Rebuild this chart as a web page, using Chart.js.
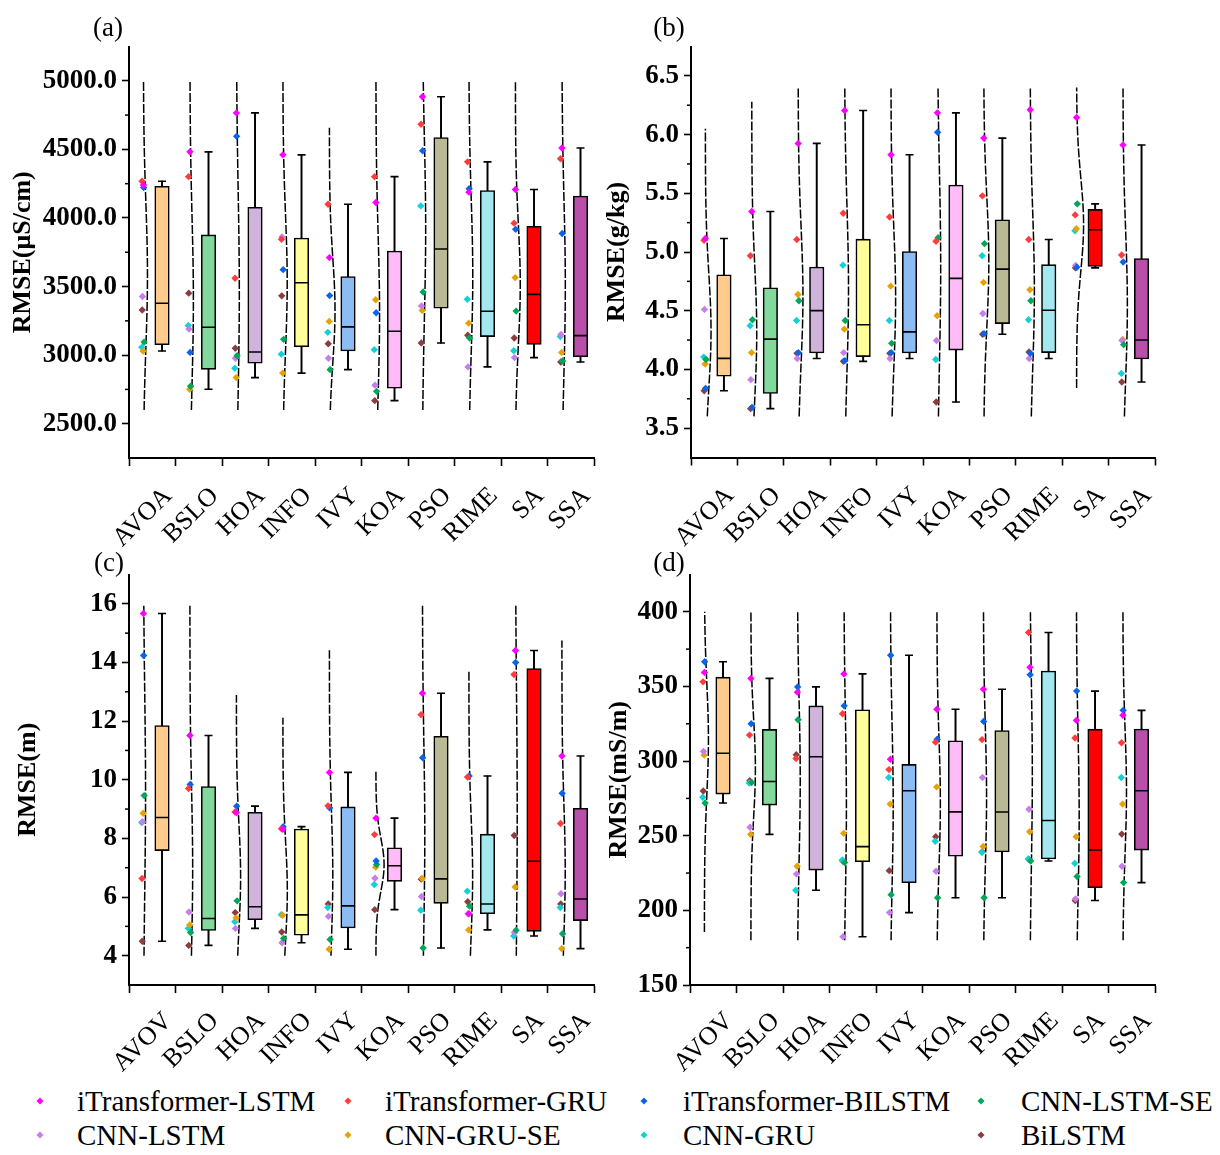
<!DOCTYPE html>
<html>
<head>
<meta charset="utf-8">
<script src="https://cdn.jsdelivr.net/npm/chart.js@4.4.1/dist/chart.umd.min.js"></script>
<style>
  body{margin:0;background:#fff;width:1220px;height:1155px;position:relative;overflow:hidden;font-family:"Liberation Serif","Times New Roman",serif;color:#000;}
  canvas{position:absolute;}
  .plab{position:absolute;font-size:27px;transform:translate(-50%,-50%);line-height:1;}
  .leg{position:absolute;font-size:29px;line-height:1;white-space:nowrap;transform:translateY(-50%);}
  .dia{position:absolute;width:5px;height:5px;transform:translate(-50%,-50%) rotate(45deg);}
</style>
</head>
<body>
<canvas id="ca" width="610" height="560" style="left:0;top:0;width:610px;height:560px"></canvas>
<canvas id="cb" width="622" height="560" style="left:598px;top:0;width:622px;height:560px"></canvas>
<canvas id="cc" width="610" height="540" style="left:0;top:540px;width:610px;height:540px"></canvas>
<canvas id="cd" width="622" height="540" style="left:598px;top:540px;width:622px;height:540px"></canvas>
<div class="plab" style="left:108px;top:27px">(a)</div>
<div class="plab" style="left:669px;top:27px">(b)</div>
<div class="plab" style="left:109px;top:562px">(c)</div>
<div class="plab" style="left:669px;top:562px">(d)</div>
<div id="legend"></div>
<script>
// ---------------- DATA ----------------
const categoriesAB = ['AVOA','BSLO','HOA','INFO','IVY','KOA','PSO','RIME','SA','SSA'];
const categoriesCD = ['AVOV','BSLO','HOA','INFO','IVY','KOA','PSO','RIME','SA','SSA'];
const models = ['iTransformer-LSTM','iTransformer-GRU','iTransformer-BILSTM','CNN-LSTM-SE','CNN-LSTM','CNN-GRU-SE','CNN-GRU','BiLSTM'];

// (a) RMSE (µS/cm)
const a_iTransformer_LSTM   = [4240,4482,4766,4460,3711,4113,4884,4188,4208,4510];
const a_iTransformer_GRU    = [4268,4301,3560,3845,4100,4301,4683,4409,3962,4432];
const a_iTransformer_BILSTM = [4222,3020,4595,3623,3434,3309,4490,4213,3917,3887];
const a_CNN_LSTM_SE         = [3095,2773,2995,3115,2894,2736,3460,3125,3321,2957];
const a_CNN_LSTM            = [3427,3191,2977,3862,2977,2781,3359,2914,2982,3150];
const a_CNN_GRU_SE          = [3030,2751,2836,2869,3246,3404,3326,3233,3565,3020];
const a_CNN_GRU             = [3057,3216,2904,3007,3166,3040,4088,3407,3032,3135];
const a_BiLSTM              = [3329,3452,3050,3432,3083,2668,3088,3145,3125,2950];

// (b) RMSE (g/kg)
const b_iTransformer_LSTM   = [5.115,5.345,5.925,6.205,5.828,6.185,5.970,6.211,6.146,5.911];
const b_iTransformer_GRU    = [5.100,4.968,5.106,5.330,5.298,5.092,5.478,5.106,5.316,4.974];
const b_iTransformer_BILSTM = [3.839,3.677,4.143,4.075,4.143,6.020,4.305,4.137,4.870,4.915];
const b_CNN_LSTM_SE         = [4.084,4.423,4.585,4.417,4.222,5.121,5.071,4.585,5.410,4.211];
const b_CNN_LSTM            = [4.511,3.913,4.093,4.143,4.093,4.246,4.476,4.093,4.885,4.246];
const b_CNN_GRU_SE          = [4.046,4.143,4.638,4.343,4.709,4.458,4.741,4.679,5.198,4.255];
const b_CNN_GRU             = [4.105,4.373,4.417,4.888,4.417,4.084,4.968,4.423,5.180,3.966];
const b_BiLSTM              = [3.819,3.666,4.137,4.069,4.137,3.722,4.299,4.149,4.865,3.893];

// (c) RMSE (m)
const c_iTransformer_LSTM   = [15.67,11.51,8.88,8.31,10.25,8.69,12.95,5.43,14.41,10.81];
const c_iTransformer_GRU    = [6.63,9.70,8.90,8.33,9.11,8.13,12.22,10.09,13.59,8.51];
const c_iTransformer_BILSTM = [14.24,9.84,9.10,8.40,9.04,7.23,10.75,10.13,14.00,9.54];
const c_CNN_LSTM_SE         = [9.46,4.79,5.87,4.59,4.55,7.11,4.26,5.69,4.87,4.75];
const c_CNN_LSTM            = [8.57,5.49,4.93,4.44,5.34,6.64,6.02,5.43,4.79,6.11];
const c_CNN_GRU_SE          = [8.86,5.05,5.29,5.38,4.22,7.02,6.63,4.88,6.34,4.24];
const c_CNN_GRU             = [8.54,4.93,5.16,5.40,5.64,6.43,5.55,6.20,4.67,5.64];
const c_BiLSTM              = [4.49,4.35,5.47,4.81,5.76,5.57,6.61,5.84,8.10,5.76];

// (d) RMSE (mS/m)
const d_iTransformer_LSTM   = [359.4,355.4,346.2,358.4,301.2,334.7,348.1,362.8,327.3,330.7];
const d_iTransformer_GRU    = [353.1,317.4,301.7,331.7,294.3,312.7,314.4,386.1,315.5,312.3];
const d_iTransformer_BILSTM = [366.5,325.0,349.7,337.0,370.9,314.6,326.6,357.8,346.9,334.0];
const d_CNN_LSTM_SE         = [271.9,285.7,327.7,232.0,210.5,208.4,208.4,233.1,222.7,218.6];
const d_CNN_LSTM            = [306.5,255.7,224.3,182.3,198.5,226.2,289.0,267.7,207.7,229.6];
const d_CNN_GRU_SE          = [304.0,250.9,229.6,251.6,271.2,282.7,242.8,252.7,249.3,271.2];
const d_CNN_GRU             = [275.8,285.3,213.5,233.8,289.0,246.3,238.9,234.5,231.5,289.0];
const d_BiLSTM              = [280.0,286.9,304.2,233.1,226.6,249.3,239.3,234.3,206.6,251.1];

// axis ticks
const yTicksA = [2500,3000,3500,4000,4500,5000];
const yTickLabelsA = ['2500.0','3000.0','3500.0','4000.0','4500.0','5000.0'];
const yMinorA = [2750,3250,3750,4250,4750];
const yTicksB = [3.5,4.0,4.5,5.0,5.5,6.0,6.5];
const yTickLabelsB = ['3.5','4.0','4.5','5.0','5.5','6.0','6.5'];
const yMinorB = [3.75,4.25,4.75,5.25,5.75,6.25];
const yTicksC = [4,6,8,10,12,14,16];
const yTickLabelsC = ['4','6','8','10','12','14','16'];
const yMinorC = [5,7,9,11,13,15];
const yTicksD = [150,200,250,300,350,400];
const yTickLabelsD = ['150','200','250','300','350','400'];
const yMinorD = [175,225,275,325,375];

// ---------------- STYLE ----------------
const FONT = '"Liberation Serif","Times New Roman",serif';
const modelColors = ['#FF00FF','#FF3B3B','#0A64E8','#00A65A','#C77DEB','#E6A200','#10D2D6','#8B3E3E'];
const boxColors = ['#FFCC8E','#82D99B','#D0B3DB','#FFFF9B','#8BBCF4','#FFBBF8','#B9B993','#A2E8EE','#FF0000','#B850AA'];
const jitter = [0.01,-0.02,0.015,0.025,-0.01,0.005,-0.025,-0.015];
const BOX_OFF = 0.21, PT_OFF = -0.2, CURVE_OFF = -0.19;

function median(s){const n=s.length;return n%2?s[(n-1)/2]:(s[n/2-1]+s[n/2])/2;}
function boxStats(vals){
  const s=[...vals].sort((a,b)=>a-b), n=s.length;
  const med=median(s);
  const q1=median(s.slice(0,Math.floor(n/2))), q3=median(s.slice(Math.ceil(n/2)));
  const iqr=q3-q1;
  const lo=Math.min(...s.filter(v=>v>=q1-1.5*iqr)), hi=Math.max(...s.filter(v=>v<=q3+1.5*iqr));
  const mean=s.reduce((a,b)=>a+b,0)/n;
  const sd=Math.sqrt(s.reduce((a,b)=>a+(b-mean)*(b-mean),0)/n);
  return {q1,q3,med,lo,hi,mean,sd};
}

const minorTickPlugin = {
  id:'minorTicks',
  afterDraw(chart, args, opts){
    const y=chart.scales.y, ctx=chart.ctx;
    ctx.save(); ctx.strokeStyle='#000'; ctx.lineWidth=1.5;
    for(const v of (opts.values||[])){
      const py=y.getPixelForValue(v);
      ctx.beginPath(); ctx.moveTo(y.right, py); ctx.lineTo(y.right-4, py); ctx.stroke();
    }
    ctx.restore();
  }
};

function makePanel(id, p){
  const stats = p.cats.map((c,i)=>boxStats(p.series.map(s=>s[i])));
  const ds = [];
  ds.push({type:'bar', data: stats.map((s,i)=>({x:i+1+BOX_OFF, y:[s.lo,s.hi]})),
    backgroundColor:'#000', borderWidth:0, barThickness:1.3, grouped:false, order:6});
  ds.push({type:'bar', data: stats.map((s,i)=>({x:i+1+BOX_OFF, y:[s.q1,s.q3]})),
    backgroundColor: boxColors, borderColor:'#000', borderWidth:1.6, borderSkipped:false,
    barThickness:14.5, grouped:false, order:5});
  ds.push({type:'scatter', data: stats.flatMap((s,i)=>[{x:i+1+BOX_OFF,y:s.lo},{x:i+1+BOX_OFF,y:s.hi}]),
    pointStyle:'line', pointRadius:4, borderColor:'#000', borderWidth:1.6, order:4});
  ds.push({type:'scatter', data: stats.map((s,i)=>({x:i+1+BOX_OFF,y:s.med})),
    pointStyle:'line', pointRadius:7, borderColor:'#000', borderWidth:1.6, order:3});
  stats.forEach((s,i)=>{
    const lo=Math.max(p.curveLo, s.mean-3.5*s.sd), hi=Math.min(p.curveHi, s.mean+3.5*s.sd);
    const pts=[];
    const N=80;
    for(let k=0;k<=N;k++){
      const y=lo+(hi-lo)*k/N;
      const pdf=Math.exp(-0.5*((y-s.mean)/s.sd)**2)/(s.sd*Math.sqrt(2*Math.PI));
      pts.push({x:i+1+CURVE_OFF+p.curveScale*pdf, y});
    }
    ds.push({type:'line', data:pts, borderColor:'#000', borderWidth:1.5, borderDash:[9,2],
      pointRadius:0, fill:false, tension:0, order:2});
  });
  p.series.forEach((ser,m)=>{
    ds.push({type:'scatter', label:models[m],
      data: ser.map((v,i)=>({x:i+1+PT_OFF+jitter[m], y:v})),
      pointStyle:'rectRot', pointRadius:3.7, pointBackgroundColor:modelColors[m],
      pointBorderWidth:0, borderWidth:0, order:1});
  });

  new Chart(document.getElementById(id), {
    type:'bar',
    data:{datasets:ds},
    plugins:[minorTickPlugin],
    options:{
      responsive:false, animation:false, events:[],
      layout:{padding:{top:p.padTop, right:p.padRight, left:0, bottom:0}},
      plugins:{legend:{display:false}, tooltip:{enabled:false}, minorTicks:{values:p.minor}},
      scales:{
        x:{type:'linear', min:0.5, max:10.5, offset:false,
          afterBuildTicks:s=>{s.ticks=p.cats.map((c,i)=>({value:i+1}));},
          afterFit:s=>{s.height=p.xH;},
          ticks:{callback:(v,i)=>p.cats[i], autoSkip:false, minRotation:45, maxRotation:45,
            font:{family:FONT,size:26}, color:'#000', padding:p.xPad, labelOffset:16},
          grid:{drawOnChartArea:false, drawTicks:true, tickLength:8, tickColor:'#000', tickWidth:1.6},
          border:{display:true, color:'#000', width:2}},
        y:{type:'linear', min:p.yMin, max:p.yMax,
          afterBuildTicks:s=>{s.ticks=p.yTicks.map(v=>({value:v}));},
          afterFit:s=>{s.width=p.yW;},
          ticks:{callback:(v,i)=>p.yLabels[i], font:{family:FONT,size:27,weight:'bold'}, color:'#000', padding:5},
          grid:{drawOnChartArea:false, drawTicks:true, tickLength:7, tickColor:'#000', tickWidth:1.6},
          border:{display:true, color:'#000', width:2},
          title:{display:true, text:p.title, color:'#000', font:{family:FONT,size:26,weight:'bold'},
            padding:{top:p.titlePad,bottom:0}}}
      }
    }
  });
}

makePanel('ca', {cats:categoriesAB,
  series:[a_iTransformer_LSTM,a_iTransformer_GRU,a_iTransformer_BILSTM,a_CNN_LSTM_SE,a_CNN_LSTM,a_CNN_GRU_SE,a_CNN_GRU,a_BiLSTM],
  yMin:2250, yMax:5250, yTicks:yTicksA, yLabels:yTickLabelsA, minor:yMinorA, title:'RMSE(μS/cm)',
  curveLo:2600, curveHi:5000, curveScale:115,
  padTop:46.5, padRight:16, yW:129, xH:102, titlePad:8, xPad:15});
makePanel('cb', {cats:categoriesAB,
  series:[b_iTransformer_LSTM,b_iTransformer_GRU,b_iTransformer_BILSTM,b_CNN_LSTM_SE,b_CNN_LSTM,b_CNN_GRU_SE,b_CNN_GRU,b_BiLSTM],
  yMin:3.25, yMax:6.75, yTicks:yTicksB, yLabels:yTickLabelsB, minor:yMinorB, title:'RMSE(g/kg)',
  curveLo:3.6, curveHi:6.4, curveScale:0.15,
  padTop:46.5, padRight:65, yW:93, xH:102.5, titlePad:4, xPad:15});
makePanel('cc', {cats:categoriesCD,
  series:[c_iTransformer_LSTM,c_iTransformer_GRU,c_iTransformer_BILSTM,c_CNN_LSTM_SE,c_CNN_LSTM,c_CNN_GRU_SE,c_CNN_GRU,c_BiLSTM],
  yMin:3, yMax:17, yTicks:yTicksC, yLabels:yTickLabelsC, minor:yMinorC, title:'RMSE(m)',
  curveLo:4, curveHi:16, curveScale:0.4,
  padTop:34.5, padRight:16, yW:129, xH:95, titlePad:13, xPad:13});
makePanel('cd', {cats:categoriesCD,
  series:[d_iTransformer_LSTM,d_iTransformer_GRU,d_iTransformer_BILSTM,d_CNN_LSTM_SE,d_CNN_LSTM,d_CNN_GRU_SE,d_CNN_GRU,d_BiLSTM],
  yMin:150, yMax:425, yTicks:yTicksD, yLabels:yTickLabelsD, minor:yMinorD, title:'RMSE(mS/m)',
  curveLo:180, curveHi:400, curveScale:8,
  padTop:34.5, padRight:65, yW:92, xH:95, titlePad:6, xPad:13});

// legend (HTML, real text)
const legX = [[39.5,77],[348,385],[643.5,683],[981,1021]];
const legY = [1101,1135];
const legOrder = [[0,1,2,3],[4,5,6,7]];
const legEl = document.getElementById('legend');
legOrder.forEach((row,r)=>row.forEach((m,c)=>{
  const d=document.createElement('div'); d.className='dia';
  d.style.left=legX[c][0]+'px'; d.style.top=legY[r]+'px'; d.style.background=modelColors[m];
  legEl.appendChild(d);
  const t=document.createElement('div'); t.className='leg';
  t.style.left=legX[c][1]+'px'; t.style.top=legY[r]+'px'; t.textContent=models[m];
  legEl.appendChild(t);
}));
</script>
</body>
</html>
